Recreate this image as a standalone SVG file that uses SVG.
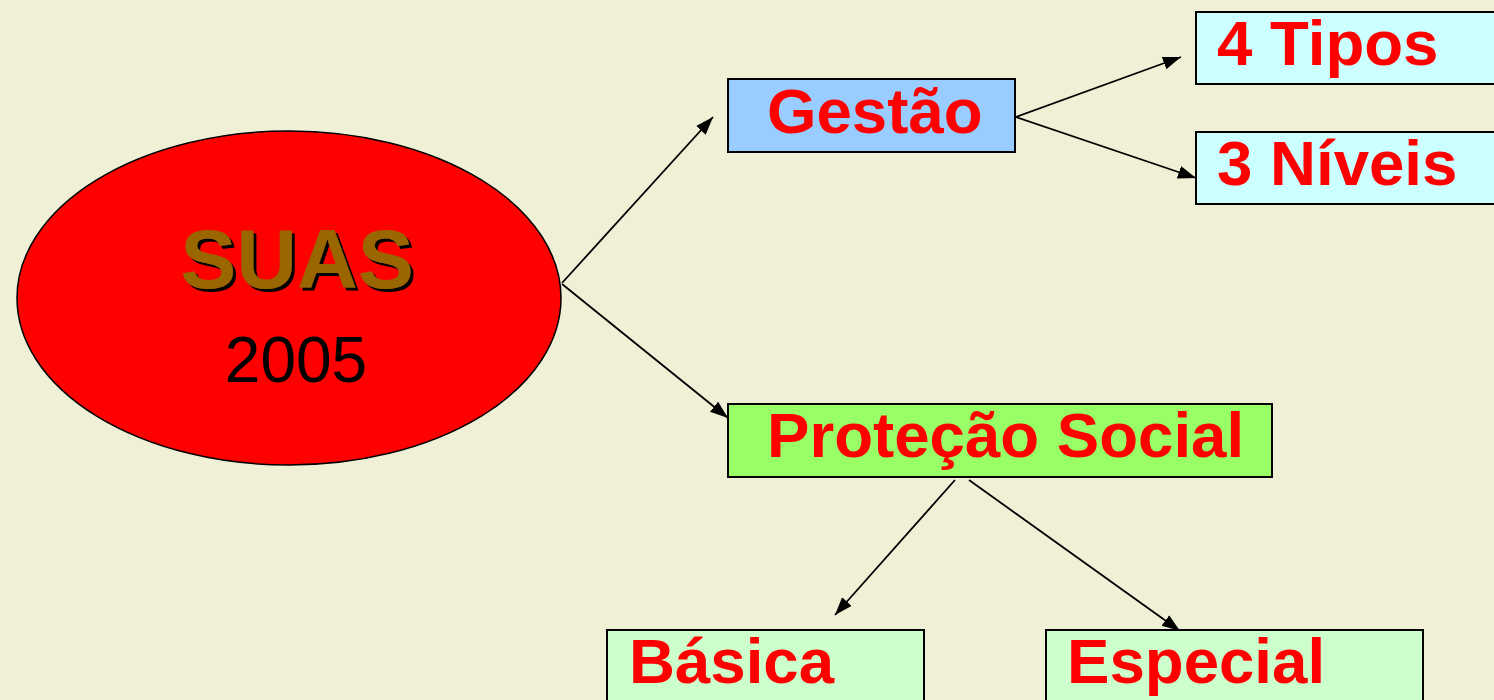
<svg xmlns="http://www.w3.org/2000/svg" width="1494" height="700" viewBox="0 0 1494 700">
<style>
.box{stroke:#000;stroke-width:2}
.lbl{font-family:"Liberation Sans",Arial,sans-serif;font-weight:bold;font-size:63.6px;fill:#FF0000}
.con{stroke:#000;stroke-width:1.8;fill:none;marker-end:url(#ah)}
</style>
<defs>
<marker id="ah" markerUnits="userSpaceOnUse" markerWidth="20" markerHeight="14" refX="18" refY="6.5" orient="auto" viewBox="0 0 20 14">
<path d="M0,0 L18,6.5 L0,13 Z" fill="#000"/>
</marker>
<filter id="shadow" x="-10%" y="-10%" width="130%" height="130%">
<feDropShadow dx="3" dy="3" stdDeviation="0" flood-color="#000" flood-opacity="1"/>
</filter>
</defs>
<rect width="1494" height="700" fill="#F0F0D6"/>
<g id="connectors">
<line class="con" x1="562" y1="283" x2="713" y2="117"/>
<line class="con" x1="562" y1="284" x2="728" y2="418"/>
<line class="con" x1="1016" y1="117" x2="1181" y2="57"/>
<line class="con" x1="1016" y1="117" x2="1196" y2="178"/>
<line class="con" x1="955" y1="480" x2="835" y2="615"/>
<line class="con" x1="969" y1="480" x2="1180" y2="631"/>
</g>
<g id="suas">
<ellipse cx="289" cy="298" rx="272" ry="167" fill="#FF0000" stroke="#000" stroke-width="1.5"/>
<text x="297" y="288" text-anchor="middle" font-family="Liberation Sans,Arial,sans-serif" font-weight="bold" font-size="84" fill="#996600" filter="url(#shadow)">SUAS</text>
<text x="296" y="382" text-anchor="middle" font-family="Liberation Sans,Arial,sans-serif" font-size="64" fill="#000">2005</text>
</g>
<g id="gestao">
<rect class="box" x="728" y="79" width="287" height="73" fill="#99CCFF"/>
<text class="lbl" x="767" y="133">Gestão</text>
</g>
<g id="tipos">
<rect class="box" x="1196" y="12" width="310" height="72" fill="#CCFFFF"/>
<text class="lbl" x="1217" y="65">4 Tipos</text>
</g>
<g id="niveis">
<rect class="box" x="1196" y="132" width="310" height="72" fill="#CCFFFF"/>
<text class="lbl" x="1217" y="185">3 Níveis</text>
</g>
<g id="protecao">
<rect class="box" x="728" y="404" width="544" height="73" fill="#99FF66"/>
<text class="lbl" x="767" y="457">Proteção Social</text>
</g>
<g id="basica">
<rect class="box" x="607" y="630" width="317" height="90" fill="#CCFFCC"/>
<text class="lbl" x="629" y="683">Básica</text>
</g>
<g id="especial">
<rect class="box" x="1046" y="630" width="377" height="90" fill="#CCFFCC"/>
<text class="lbl" x="1067" y="683">Especial</text>
</g>
</svg>
